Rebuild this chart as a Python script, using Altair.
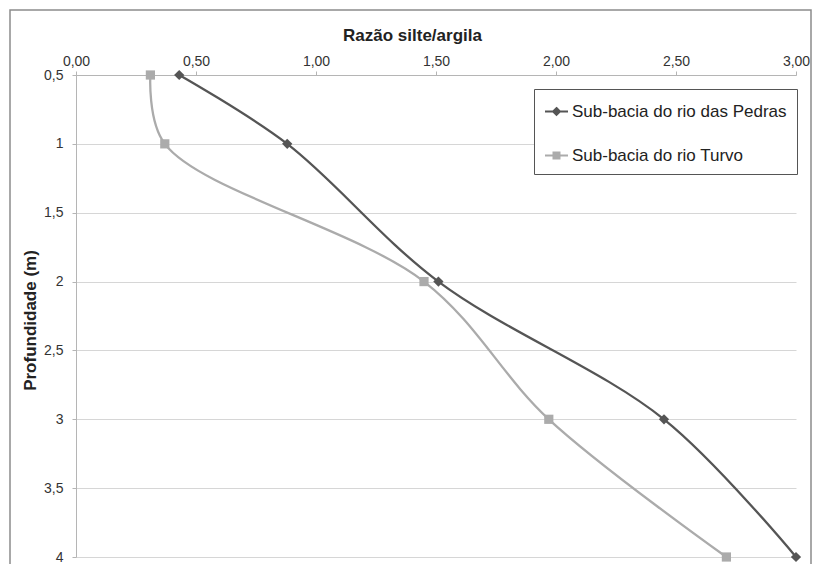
import altair as alt
import pandas as pd

# ---- data ----
depth = [0.5, 1.0, 2.0, 3.0, 4.0]
pedras = [0.43, 0.88, 1.51, 2.45, 3.00]
turvo = [0.31, 0.37, 1.45, 1.97, 2.71]
series_names = ["Sub-bacia do rio das Pedras", "Sub-bacia do rio Turvo"]
x_ticks = [0, 0.5, 1, 1.5, 2, 2.5, 3]
y_ticks = [0.5, 1, 1.5, 2, 2.5, 3, 3.5, 4]
colors = ["#555555", "#ababab"]
shapes = ["diamond", "square"]
marker_sizes = [105, 85]

rows = []
for d, p, t in zip(depth, pedras, turvo):
    rows.append({"serie": series_names[0], "prof": d, "razao": p})
    rows.append({"serie": series_names[1], "prof": d, "razao": t})
df = pd.DataFrame(rows)

FONT = "Liberation Sans"
W, H = 720, 482

color_scale = alt.Scale(domain=series_names, range=colors)

x_enc = alt.X(
    "razao:Q",
    scale=alt.Scale(domain=[0, 3], nice=False, zero=False),
    axis=alt.Axis(
        orient="top",
        values=x_ticks,
        labelExpr="replace(format(datum.value, '.2f'), '.', ',')",
        labelFlush=False,
        title="Razão silte/argila",
        grid=False,
        tickSize=4,
        labelPadding=3,
        titleX=336,
        titleY=-35,
        titleBaseline="alphabetic",
        titleAlign="center",
    ),
)
y_enc = alt.Y(
    "prof:Q",
    scale=alt.Scale(domain=[0.5, 4], reverse=True, nice=False, zero=False),
    axis=alt.Axis(
        values=y_ticks,
        labelExpr="replace(format(datum.value, '~g'), '.', ',')",
        labelFlush=False,
        title="Profundidade (m)",
        grid=True,
        tickSize=4,
        labelPadding=9,
        titleX=-46,
        titleY=H / 2 + 4,
        titleAngle=270,
        titleBaseline="middle",
        titleAlign="center",
    ),
)

shape_expr = (
    "datum.value === 'Sub-bacia do rio das Pedras' ? "
    "'M-1,0H1M0,-0.3L0.3,0L0,0.3L-0.3,0Z' : "
    "'M-1,0H1M-0.26,-0.26H0.26V0.26H-0.26Z'"
)
color_expr = "scale('color', datum.value)"

legend = alt.Legend(
    title=None,
    orient="none",
    legendX=458,
    legendY=14,
    padding=10,
    rowPadding=23,
    strokeColor="#555555",
    fillColor="white",
    labelFont=FONT,
    labelFontSize=17,
    labelColor="#222222",
    labelLimit=400,
    labelOffset=3,
    symbolSize=529,
    symbolStrokeWidth=2,
    symbolType=alt.ExprRef(shape_expr),
    symbolFillColor=alt.ExprRef(color_expr),
    symbolStrokeColor=alt.ExprRef(color_expr),
)

frame = alt.Chart(alt.Data(values=[{"k": 1}])).mark_rect(
    filled=False, stroke="#8c8c8c", strokeWidth=1.5
).encode(
    x=alt.value(-66), x2=alt.value(735), y=alt.value(-65), y2=alt.value(520)
)

lines = alt.Chart(df).mark_line(interpolate="catmull-rom", strokeWidth=2.3).encode(
    x=x_enc,
    y=y_enc,
    order=alt.Order("prof:Q"),
    color=alt.Color("serie:N", scale=color_scale, legend=legend),
)

point_layers = []
for name, col, shp, sz in zip(series_names, colors, shapes, marker_sizes):
    point_layers.append(
        alt.Chart(df)
        .transform_filter(alt.datum.serie == name)
        .mark_point(filled=True, opacity=1, shape=shp, size=sz, color=col)
        .encode(x=x_enc, y=y_enc)
    )

chart = (
    alt.layer(frame, lines, *point_layers)
    .properties(
        width=W,
        height=H,
        autosize=alt.AutoSizeParams(type="none"),
        padding={"left": 68, "top": 67, "right": 17, "bottom": 7},
        background="white",
    )
    .configure_view(stroke=None)
    .configure_axis(
        domainColor="#b5b5b5",
        tickColor="#b5b5b5",
        gridColor="#d6d6d6",
        labelColor="#333333",
        labelFont=FONT,
        labelFontSize=14,
        titleFont=FONT,
        titleFontSize=17,
        titleFontWeight="bold",
        titleColor="#222222",
    )
)

chart.save("out.html", embed_options={"renderer": "svg", "actions": False})
